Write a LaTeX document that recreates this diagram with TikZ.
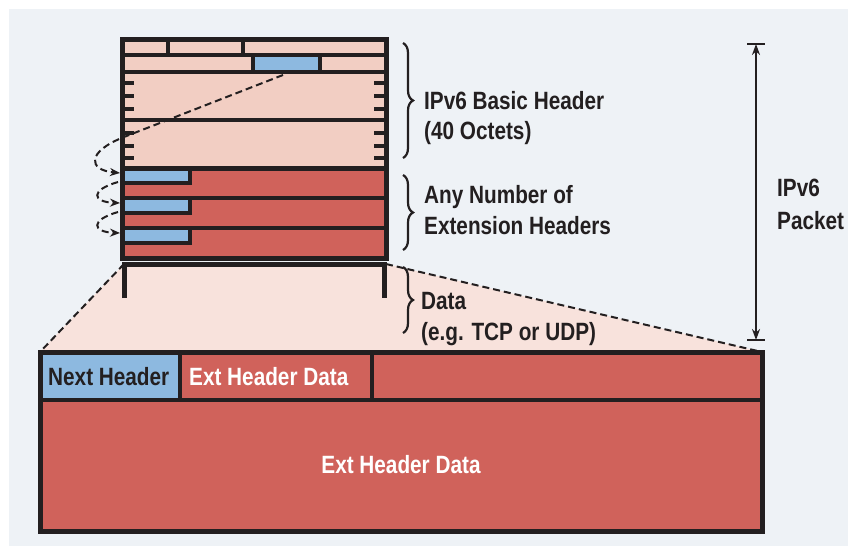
\documentclass[tikz,border=0pt]{standalone}
\usepackage{fontspec}
\setmainfont{Liberation Sans}[FakeStretch=0.83]
\usetikzlibrary{arrows.meta,decorations.pathreplacing}
\definecolor{bgblue}{HTML}{EEF2F6}
\definecolor{hdrpink}{HTML}{F2CEC3}
\definecolor{extred}{HTML}{D0625B}
\definecolor{nhblue}{HTML}{8DB9E0}
\definecolor{datapink}{HTML}{F8E2DC}
\definecolor{ink}{HTML}{231F20}
\tikzset{
  frame/.style={draw=ink,line width=5pt},
  divider/.style={draw=ink,line width=3.6pt},
  lbl/.style={font=\bfseries\fontsize{25}{30}\selectfont,text=ink,inner sep=0pt,anchor=base west},
  wlbl/.style={lbl,text=white},
  dashes/.style={draw=ink,line width=2pt,dash pattern=on 7pt off 4pt},
  hop/.style={dashes,-{Stealth[length=10pt,width=8pt]}},
  grp/.style={decorate,decoration={brace,amplitude=10pt},draw=ink,line width=2.2pt},
}
\begin{document}
\begin{tikzpicture}[x=1pt,y=-1pt]
  \useasboundingbox (0,0) rectangle (850,546);
  \fill[bgblue] (9,9) rectangle (848,546);
  % corners of the zoomed region
  \coordinate (dtl) at (124,264); \coordinate (dtr) at (386,264);
  \coordinate (btl) at (40,352); \coordinate (btr) at (762,352);
  \fill[datapink] (dtl) -- (dtr) -- (btr) -- (btl) -- cycle;
  \draw[dashes] (dtl) -- (btl); \draw[dashes] (dtr) -- (btr);
  % basic header and extension headers
  \fill[hdrpink] (122,39) rectangle (386,168);
  \fill[extred] (122,168) rectangle (386,258);
  \fill[nhblue] (253,55) rectangle (320,72);
  \foreach \y in {168,198,228} {
    \fill[nhblue] (122,\y) rectangle (190,\y+15);
    \draw[divider] (190,\y) -- (190,\y+15) -- (122,\y+15);
  }
  \foreach \y in {55,72,120,198,228} \draw[divider] (122,\y) -- (386,\y);
  \draw[frame] (122,168) -- (386,168);
  \draw[divider] (168,39) -- (168,55) (243,39) -- (243,55)
    (253,55) -- (253,72) (320,55) -- (320,72);
  \foreach \y in {83,96,109,133,146,158}
    \draw[divider] (122,\y) -- (134,\y) (374,\y) -- (386,\y);
  \draw[frame] (122,39) rectangle (386,258);
  \draw[frame] (124,298) -- (dtl) -- (384,264) -- (384,298);
  % next header pointers
  \coordinate (nh0) at (283,75); \coordinate (nh1) at (118,182);
  \coordinate (nh2) at (118,212);
  \coordinate (ext1) at (120,173); \coordinate (ext2) at (120,203);
  \coordinate (ext3) at (120,233);
  \draw[hop] (nh0) -- (124,137) .. controls (86,152) and (88,170) .. (ext1);
  \draw[hop] (nh1) .. controls (90,190) and (92,202) .. (ext2);
  \draw[hop] (nh2) .. controls (90,220) and (92,232) .. (ext3);
  % braces and labels
  \draw[grp] (403,43) -- (403,158);
  \draw[grp] (403,175) -- (403,250);
  \draw[grp] (403,267) -- (403,333);
  \node[lbl] (basic) at (424,109) {IPv6 Basic Header};
  \node[lbl] (octets) at (424,139) {(40 Octets)};
  \node[lbl] (anynum) at (424,203) {Any Number of};
  \node[lbl] (exthdrs) at (424,234) {Extension Headers};
  \node[lbl] (data) at (421,309) {Data};
  \node[lbl] (tcpudp) at (421,340) {(e.g. TCP or UDP)};
  % packet length
  \coordinate (pkttop) at (756,44); \coordinate (pktbot) at (756,340);
  \draw[ink,line width=2.2pt,{Stealth[length=11pt,width=8pt]}-{Stealth[length=11pt,width=8pt]}] (pkttop) -- (pktbot);
  \draw[ink,line width=2.2pt] ([xshift=-9pt]pkttop) -- ([xshift=9pt]pkttop)
    ([xshift=-9pt]pktbot) -- ([xshift=9pt]pktbot);
  \node[lbl] (ipv6) at (777,196) {IPv6};
  \node[lbl] (packet) at (777,229) {Packet};
  % extension header layout
  \fill[extred] (btl) rectangle (762,531);
  \fill[nhblue] (btl) rectangle (180,400);
  \draw[divider] (40,400) -- (762,400) (180,352) -- (180,400) (372,352) -- (372,400);
  \draw[frame] (btl) rectangle (762,531);
  \node[lbl] (nexthdr) at (48,385) {Next Header};
  \node[wlbl] (extdata1) at (189,385) {Ext Header Data};
  \node[wlbl,anchor=base] (extdata2) at (401,473) {Ext Header Data};
\end{tikzpicture}
\end{document}
